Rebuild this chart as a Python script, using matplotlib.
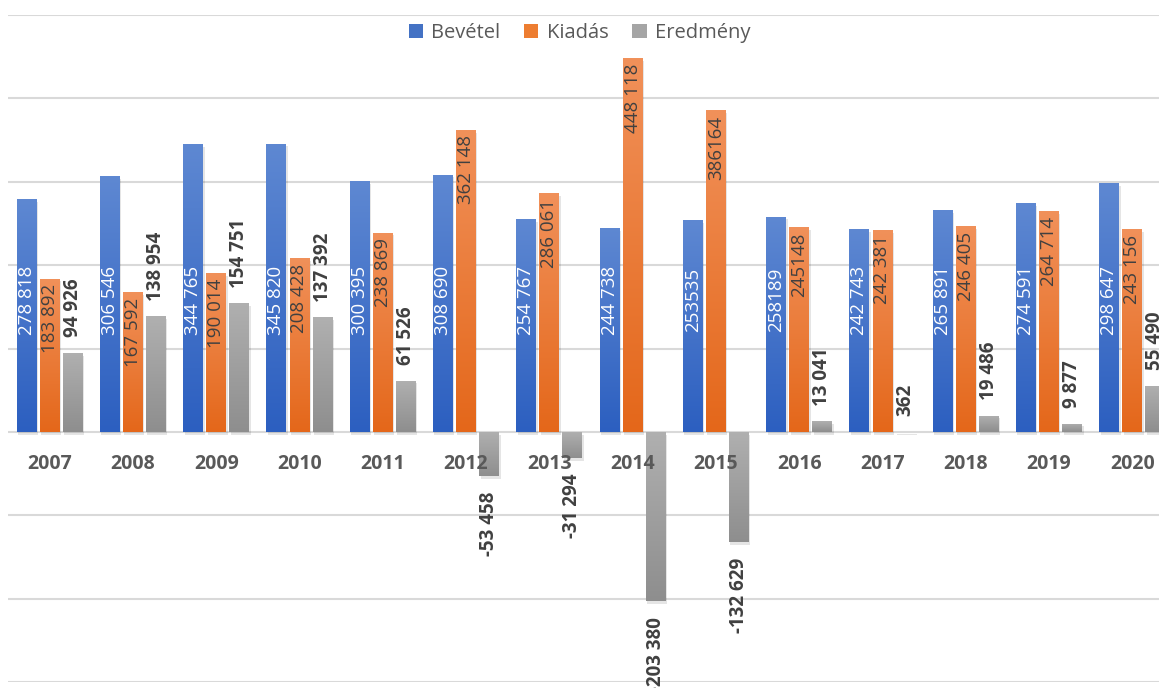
import numpy as np
import matplotlib
matplotlib.use("Agg")
import matplotlib.pyplot as plt
from matplotlib.patches import Patch
from matplotlib import patheffects as pe
from matplotlib.colors import LinearSegmentedColormap

plt.rcParams['font.family'] = ['Open Sans', 'DejaVu Sans']

years = ['2007', '2008', '2009', '2010', '2011', '2012', '2013',
         '2014', '2015', '2016', '2017', '2018', '2019', '2020']

bevetel = [278818, 306546, 344765, 345820, 300395, 308690, 254767,
           244738, 253535, 258189, 242743, 265891, 274591, 298647]
kiadas = [183892, 167592, 190014, 208428, 238869, 362148, 286061,
          448118, 386164, 245148, 242381, 246405, 264714, 243156]
eredmeny = [94926, 138954, 154751, 137392, 61526, -53458, -31294,
            -203380, -132629, 13041, 362, 19486, 9877, 55490]

# label texts as written in the source chart (spacing is not consistent)
bevetel_txt = ['278 818', '306 546', '344 765', '345 820', '300 395', '308 690', '254 767',
               '244 738', '253535', '258189', '242 743', '265 891', '274 591', '298 647']
kiadas_txt = ['183 892', '167 592', '190 014', '208 428', '238 869', '362 148', '286 061',
              '448 118', '386164', '245148', '242 381', '246 405', '264 714', '243 156']
eredmeny_txt = ['94 926', '138 954', '154 751', '137 392', '61 526', '-53 458', '-31 294',
                '-203 380', '-132 629', '13 041', '362', '19 486', '9 877', '55 490']

series = ['Bevétel', 'Kiadás', 'Eredmény']
colors = {'Bevétel': ('#5E88D2', '#2C5FC0', '#4472C4'),
          'Kiadás': ('#F1915A', '#E4671A', '#ED7D31'),
          'Eredmény': ('#B0B0B0', '#8E8E8E', '#A5A5A5')}

fig = plt.figure(figsize=(11.59, 6.88), dpi=100)
ax = fig.add_axes([8 / 1159, 6 / 688, 1166 / 1159, 667 / 688])

x = np.arange(len(years))
w = 0.24
off = 0.277

shadow = [pe.SimplePatchShadow(offset=(1, -2), shadow_rgbFace='#000000', alpha=0.10), pe.Normal()]


def gradient_bars(bars, top_c, bot_c):
    cmap = LinearSegmentedColormap.from_list('g', [bot_c, top_c])
    grad = np.linspace(0, 1, 256).reshape(-1, 1)
    for b in bars:
        x0, y0 = b.get_x(), b.get_y()
        x1, y1 = x0 + b.get_width(), y0 + b.get_height()
        lo, hi = min(y0, y1), max(y0, y1)
        im = ax.imshow(grad, cmap=cmap, extent=[x0, x1, lo, hi], origin='lower',
                       aspect='auto', zorder=2.1, interpolation='bilinear')
        im.set_clip_path(b)


bars_b = ax.bar(x - off, bevetel, w, color=colors['Bevétel'][2], zorder=2, path_effects=shadow)
bars_k = ax.bar(x, kiadas, w, color=colors['Kiadás'][2], zorder=2, path_effects=shadow)
bars_e = ax.bar(x + off, eredmeny, w, color=colors['Eredmény'][2], zorder=2, path_effects=shadow)
gradient_bars(bars_b, *colors['Bevétel'][:2])
gradient_bars(bars_k, *colors['Kiadás'][:2])
gradient_bars(bars_e, *colors['Eredmény'][:2])

ax.set_xlim(-0.5, len(years) - 0.5)
ax.set_ylim(-300000, 500000)
ax.set_yticks(np.arange(-300000, 500001, 100000))
ax.yaxis.grid(True, color='#D9D9D9', linewidth=1.5, zorder=0)
ax.set_axisbelow(True)
ax.tick_params(axis='y', left=False, labelleft=False)
for s in ax.spines.values():
    s.set_visible(False)

# category labels just below the zero line, drawn over the negative bars
ax.spines['bottom'].set_position(('data', 0))
ax.set_xticks(x, years)
ax.tick_params(axis='x', length=0, pad=16, labelsize=14, labelcolor='#595959')
for t in ax.get_xticklabels():
    t.set_fontweight('bold')
ax.xaxis.set_zorder(5)

fs = 13.5
for i in range(len(years)):
    ax.text(x[i] - off, 158000, bevetel_txt[i], rotation=90, ha='center', va='center',
            color='white', fontsize=fs, zorder=4)
    ax.annotate(kiadas_txt[i], (x[i], kiadas[i]), xytext=(0, -4), textcoords='offset points',
                rotation=90, ha='center', va='top', color='#404040', fontsize=fs, zorder=4)
    v = eredmeny[i]
    ax.annotate(eredmeny_txt[i], (x[i] + off, v), xytext=(0, 11 if v >= 0 else -11),
                textcoords='offset points', rotation=90, ha='center',
                va='bottom' if v >= 0 else 'top', color='#404040', fontsize=fs,
                fontweight='bold', zorder=4)

handles = [Patch(facecolor=colors[s][2], label=s) for s in series]
fig.legend(handles=handles, loc='center', bbox_to_anchor=(0.5, 1 - 33 / 688), ncol=3,
           frameon=False, fontsize=14.5, labelcolor='#595959', handlelength=0.7,
           handleheight=0.7, handletextpad=0.4, columnspacing=1.2)

fig.savefig('out.png', dpi=100)
